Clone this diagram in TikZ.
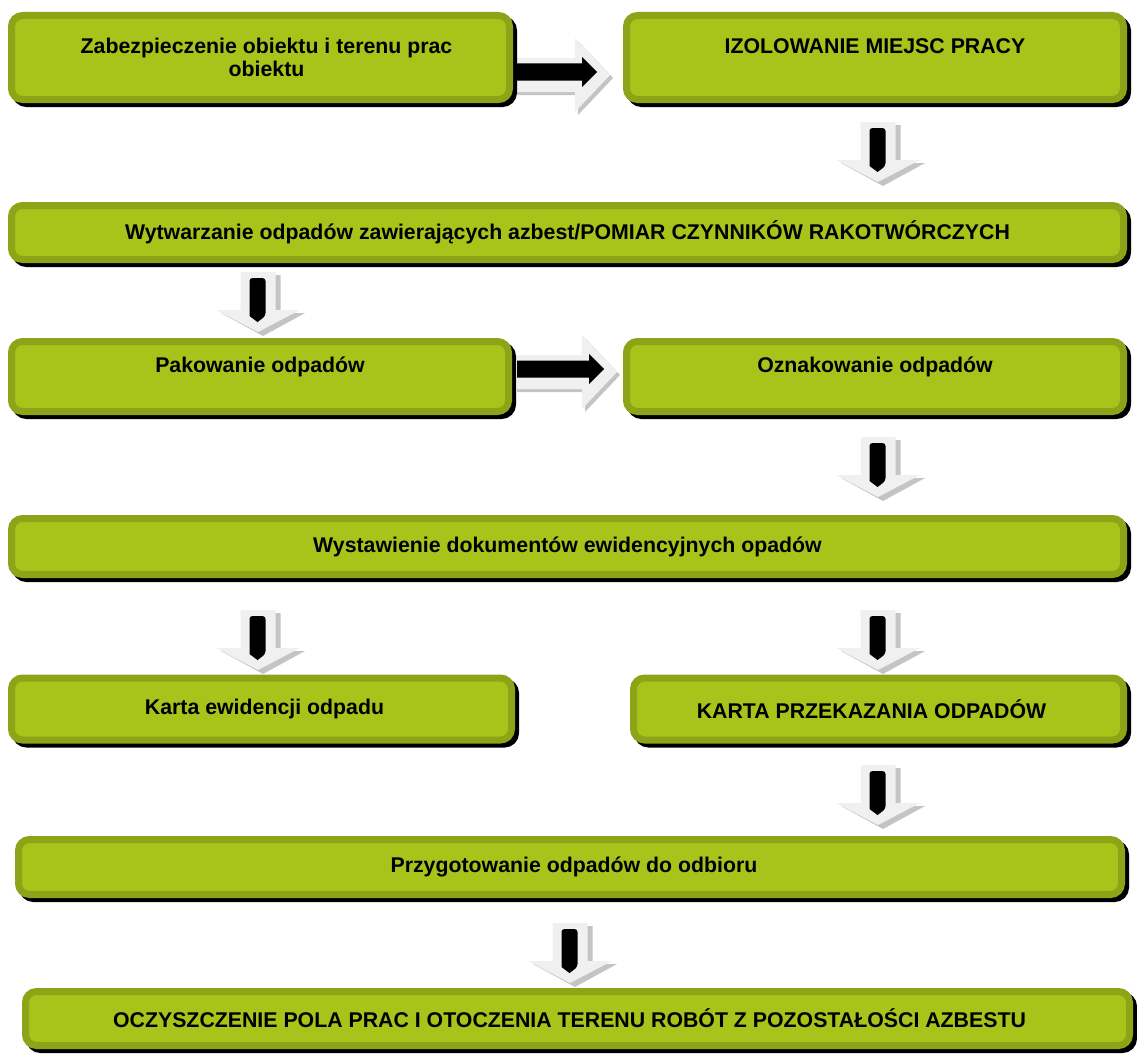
\documentclass[tikz,border=0pt]{standalone}
\usepackage{fontspec}
\setmainfont{Liberation Sans}
\usetikzlibrary{calc}
\definecolor{gouter}{HTML}{8EA318}
\definecolor{ginner}{HTML}{A8C41A}
\definecolor{alight}{HTML}{F0F0F0}
\definecolor{ashade}{HTML}{C4C4C4}
\pgfdeclarelayer{bg}\pgfsetlayers{bg,main}
\newcommand{\harr}[1]{%
 \begin{scope}[shift={(#1)}]
  \fill[ashade] (-100,-14) -- (-32,-14) -- (-32,-34) -- (3,3) -- (-32,40) -- (-32,20) -- (-100,20) -- cycle;
  \fill[alight] (-100,-17) -- (-35,-17) -- (-35,-37) -- (0,0) -- (-35,37) -- (-35,17) -- (-100,17) -- cycle;
  \fill[black] (-100,-11.5) -- (-28,-11.5) -- (-28,-18) -- (-13,-3) -- (-28,12) -- (-28,5.5) -- (-100,5.5) -- cycle;
 \end{scope}}
\newcommand{\darr}[1]{%
 \begin{scope}[shift={(#1)}]
  \fill[ashade] (-12.5,-57) -- (22.5,-57) -- (22.5,-19) -- (47,-19) -- (5,4) -- (-37,-19) -- (-12.5,-19) -- cycle;
  \fill[alight] (-17.5,-60) -- (17.5,-60) -- (17.5,-22) -- (42,-22) -- (0,0) -- (-42,-22) -- (-17.5,-22) -- cycle;
  \fill[black, rounded corners=3pt] (-8.5,-16) -- (-8.5,-54) -- (7.5,-54) -- (7.5,-16) [sharp corners] -- (-0.5,-10) -- cycle;
 \end{scope}}
\begin{document}
\begin{tikzpicture}[x=1pt,y=-1pt,
 gbox/.style={rounded corners=11pt, fill=ginner, draw=gouter, line width=7pt, inner sep=0pt,
   align=center, font=\bfseries\fontsize{21.3}{23}\selectfont,
   preaction={fill=black, draw=black, transform canvas={xshift=4pt,yshift=-4pt}}}]
\useasboundingbox (0,0) rectangle (1137,1057);
\node[gbox, minimum width=498pt, minimum height=84pt] (b1) at (260.5,57.5) {\hspace*{12pt}Zabezpieczenie obiektu i terenu prac\\\hspace*{12pt}obiektu};
\node[gbox, minimum width=497pt, minimum height=84pt] (b2) at (875,57.5) {IZOLOWANIE MIEJSC PRACY\\\mbox{}};
\node[gbox, minimum width=1112pt, minimum height=54pt] (b3) at (567.5,232.5) {Wytwarzanie odpadów zawierających azbest/POMIAR CZYNNIKÓW RAKOTWÓRCZYCH};
\node[gbox, minimum width=497pt, minimum height=70pt] (b4) at (260,376.5) {Pakowanie odpadów\\\mbox{}};
\node[gbox, minimum width=497pt, minimum height=70pt] (b5) at (875,376.5) {Oznakowanie odpadów\\\mbox{}};
\node[gbox, minimum width=1112pt, minimum height=56pt] (b6) at (567.5,546.5) {Wystawienie dokumentów ewidencyjnych opadów};
\node[gbox, minimum width=500pt, minimum height=62pt] (b7) at (261.5,709) {\hspace*{6pt}Karta ewidencji odpadu};
\node[gbox, minimum width=490pt, minimum height=62pt] (b8) at (878.5,709) {KARTA PRZEKAZANIA ODPADÓW\hspace*{14pt}};
\node[gbox, minimum width=1103pt, minimum height=55pt] (b9) at (570,867) {\hspace*{8pt}Przygotowanie odpadów do odbioru};
\node[gbox, minimum width=1104pt, minimum height=54pt] (b10) at (577.5,1018.5) {OCZYSZCZENIE POLA PRAC I OTOCZENIA TERENU ROBÓT Z POZOSTAŁOŚCI AZBESTU\hspace*{16pt}};
\coordinate (h1) at (610,75);
\coordinate (h2) at (617,372);
\coordinate (d1) at (878,182);
\coordinate (d2) at (258,332);
\coordinate (d3) at (878,497);
\coordinate (d4) at (258,670);
\coordinate (d5) at (878,670);
\coordinate (d6) at (878,825);
\coordinate (d7) at (570,983);
\begin{pgfonlayer}{bg}
\harr{h1}\harr{h2}
\darr{d1}\darr{d2}\darr{d3}\darr{d4}\darr{d5}\darr{d6}\darr{d7}
\end{pgfonlayer}
\end{tikzpicture}
\end{document}
